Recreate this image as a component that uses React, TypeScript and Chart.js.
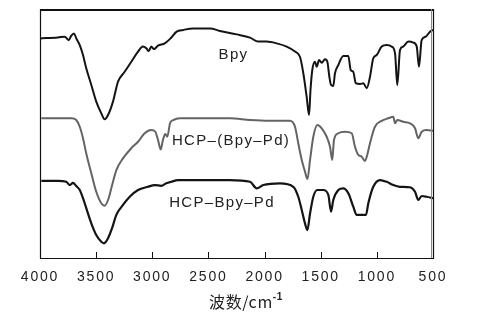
import React, { useEffect, useRef } from "react";
import { Chart, registerables } from "chart.js";

Chart.register(...registerables);

// Wavenumbers (cm^-1) and transmittance (arbitrary, offset) for each trace
const bpyWn = [4000, 3840, 3780, 3744, 3721, 3697, 3677, 3646, 3617, 3588, 3543, 3499, 3454, 3424, 3394, 3350, 3305, 3246, 3187, 3127, 3083, 3053, 3032, 3009, 2985, 2949, 2889, 2842, 2783, 2724, 2635, 2486, 2397, 2248, 2130, 2056, 1981, 1892, 1803, 1729, 1684, 1655, 1625, 1604, 1591, 1575, 1551, 1536, 1515, 1491, 1462, 1441, 1423, 1408, 1388, 1373, 1343, 1299, 1254, 1233, 1210, 1188, 1150, 1121, 1090, 1061, 1032, 1001, 957, 912, 868, 838, 818, 794, 765, 720, 675, 645, 625, 601, 565, 527, 500];
const bpyT = [88.2, 88.6, 88.9, 87.5, 89.3, 90.2, 88.2, 85.5, 81.5, 76.2, 69.5, 62.8, 58.1, 55.7, 57.4, 62.8, 70.8, 74.8, 78.8, 82.9, 84.9, 84.2, 83.1, 84.9, 83.9, 85.3, 86.2, 88.0, 90.9, 91.6, 92.2, 92.2, 91.2, 89.8, 88.5, 86.9, 86.9, 86.2, 84.9, 82.9, 80.7, 74.2, 64.7, 57.4, 67.5, 75.5, 78.8, 76.8, 79.5, 78.4, 79.8, 78.8, 72.8, 69.5, 69.1, 74.2, 77.5, 81.1, 81.1, 75.5, 74.8, 70.2, 69.9, 70.2, 68.2, 72.8, 80.2, 81.5, 84.9, 85.5, 84.9, 82.2, 69.5, 83.5, 84.9, 86.9, 86.5, 84.9, 76.8, 87.5, 88.9, 90.9, 91.6];

const hcpPdWn = [3988, 3721, 3677, 3646, 3617, 3588, 3543, 3499, 3454, 3424, 3394, 3365, 3320, 3261, 3187, 3127, 3068, 3009, 2973, 2949, 2925, 2905, 2884, 2866, 2842, 2813, 2753, 2308, 2130, 1952, 1774, 1729, 1700, 1669, 1640, 1618, 1595, 1566, 1530, 1491, 1447, 1417, 1397, 1382, 1343, 1284, 1224, 1195, 1165, 1135, 1106, 1090, 1061, 1017, 957, 898, 854, 838, 818, 765, 705, 660, 631, 601, 556, 500];
const hcpPdT = [56.1, 56.1, 55.4, 52.7, 48.1, 42.0, 34.0, 26.6, 22.0, 21.0, 23.3, 28.0, 35.3, 40.0, 44.1, 46.7, 50.1, 51.4, 50.7, 47.4, 43.6, 47.4, 49.8, 48.7, 54.1, 55.4, 56.1, 56.1, 55.4, 55.1, 55.1, 52.7, 46.1, 39.4, 34.7, 31.7, 39.4, 48.7, 53.4, 52.1, 48.7, 44.7, 39.4, 47.4, 50.1, 50.7, 50.1, 44.7, 41.4, 40.7, 39.0, 40.7, 46.1, 52.7, 55.1, 56.1, 56.7, 54.1, 55.4, 54.7, 54.1, 52.1, 48.1, 50.7, 51.4, 51.1];

const hcpBpyPdWn = [3988, 3840, 3766, 3735, 3706, 3677, 3646, 3617, 3588, 3543, 3499, 3454, 3430, 3394, 3359, 3320, 3261, 3201, 3127, 3038, 2978, 2920, 2875, 2831, 2771, 2308, 2130, 2070, 2011, 1863, 1744, 1700, 1669, 1640, 1619, 1595, 1566, 1530, 1477, 1432, 1408, 1388, 1343, 1299, 1254, 1210, 1180, 1135, 1097, 1076, 1032, 972, 912, 854, 794, 705, 660, 631, 601, 556, 500];
const hcpBpyPdT = [31.0, 31.0, 30.6, 29.3, 30.2, 28.9, 27.3, 24.0, 20.0, 13.9, 9.2, 6.5, 5.9, 7.9, 11.9, 17.3, 21.3, 24.6, 27.3, 28.6, 29.3, 29.0, 30.0, 30.6, 31.3, 31.3, 30.6, 28.0, 29.3, 30.0, 28.6, 24.6, 19.3, 13.9, 11.2, 17.9, 24.6, 27.3, 27.3, 25.3, 18.6, 23.3, 27.3, 28.0, 26.0, 20.6, 17.3, 17.3, 17.3, 22.0, 28.6, 31.3, 30.6, 29.3, 28.6, 28.4, 26.6, 23.3, 24.9, 24.6, 24.0];

const xTicks = [4000, 3500, 3000, 2500, 2000, 1500, 1000, 500];

const seriesLabels = ["Bpy", "HCP–(Bpy–Pd)", "HCP–Bpy–Pd"];
// label anchor (wavenumber, transmittance)
const labelWn = [2277, 2299, 2379];
const labelT = [81.5, 47.2, 22.0];

const xTitle = "波数/cm";
const xTitleSup = "-1";

function pairs(xs: number[], ys: number[]) {
  return xs.map((x, i) => ({ x, y: ys[i] }));
}

const decor = {
  id: "decor",
  beforeDraw(chart: any) {
    (chart.ctx as any).letterSpacing = "1.8px";
  },
  afterDraw(chart: any) {
    const ctx = chart.ctx as CanvasRenderingContext2D;
    const { left, right, top, bottom } = chart.chartArea;
    const xs = chart.scales.x;
    const ys = chart.scales.y;
    ctx.save();
    // frame
    ctx.strokeStyle = "#111";
    ctx.lineWidth = 1.2;
    ctx.beginPath();
    ctx.moveTo(left + 0.5, top);
    ctx.lineTo(left + 0.5, bottom + 0.5);
    ctx.lineTo(right + 0.5, bottom + 0.5);
    ctx.lineTo(right + 0.5, top);
    ctx.stroke();
    ctx.lineWidth = 2.2;
    ctx.beginPath();
    ctx.moveTo(left, top + 1);
    ctx.lineTo(right + 1, top + 1);
    ctx.stroke();
    ctx.strokeStyle = "#888";
    ctx.lineWidth = 1;
    ctx.beginPath();
    ctx.moveTo(right - 1.5, top);
    ctx.lineTo(right - 1.5, bottom);
    ctx.stroke();
    // inward ticks
    ctx.strokeStyle = "#111";
    ctx.lineWidth = 1;
    for (const t of xTicks) {
      const px = Math.round(xs.getPixelForValue(t)) + 0.5;
      ctx.beginPath();
      ctx.moveTo(px, bottom);
      ctx.lineTo(px, bottom - 6);
      ctx.stroke();
    }
    // series labels
    (ctx as any).letterSpacing = "1.3px";
    ctx.fillStyle = "#222";
    ctx.font = "15px 'Liberation Sans', Arial, sans-serif";
    ctx.textAlign = "center";
    ctx.textBaseline = "middle";
    seriesLabels.forEach((s, i) => {
      ctx.fillText(s, xs.getPixelForValue(labelWn[i]), ys.getPixelForValue(labelT[i]));
    });
    // axis title
    (ctx as any).letterSpacing = "0.6px";
    ctx.font = "16px 'Noto Sans CJK SC', 'Liberation Sans', sans-serif";
    ctx.textAlign = "left";
    ctx.textBaseline = "middle";
    const w1 = ctx.measureText(xTitle).width;
    ctx.font = "bold 10px 'Liberation Sans', sans-serif";
    const w2 = ctx.measureText(xTitleSup).width;
    const startX = 246 - (w1 + w2) / 2;
    ctx.font = "16px 'Noto Sans CJK SC', 'Liberation Sans', sans-serif";
    ctx.fillText(xTitle, startX, 302);
    ctx.font = "bold 10px 'Liberation Sans', sans-serif";
    ctx.fillText(xTitleSup, startX + w1, 297);
    ctx.restore();
  },
};

export default function App() {
  const ref = useRef<HTMLCanvasElement | null>(null);
  useEffect(() => {
    if (!ref.current) return;
    const chart = new Chart(ref.current, {
      type: "line",
      data: {
        datasets: [
          { label: seriesLabels[0], data: pairs(bpyWn, bpyT), borderColor: "#141414", borderWidth: 2, pointRadius: 0, cubicInterpolationMode: "monotone" },
          { label: seriesLabels[1], data: pairs(hcpPdWn, hcpPdT), borderColor: "#646464", borderWidth: 2, pointRadius: 0, cubicInterpolationMode: "monotone" },
          { label: seriesLabels[2], data: pairs(hcpBpyPdWn, hcpBpyPdT), borderColor: "#141414", borderWidth: 2.2, pointRadius: 0, cubicInterpolationMode: "monotone" },
        ],
      },
      options: {
        animation: false,
        responsive: false,
        events: [],
        layout: { padding: { left: 40, right: 67, top: 9, bottom: 0 } },
        plugins: { legend: { display: false }, tooltip: { enabled: false } },
        scales: {
          x: {
            type: "linear",
            reverse: true,
            min: 500,
            max: 4000,
            afterBuildTicks: (s: any) => { s.ticks = xTicks.map((v) => ({ value: v })); },
            afterFit: (s: any) => { s.height = 63; },
            grid: { display: false, drawTicks: false },
            border: { display: false },
            ticks: {
              color: "#222",
              padding: 11,
              maxRotation: 0,
              autoSkip: false,
              font: { family: "'Liberation Sans', Arial, sans-serif", size: 14 },
              callback: (v: any) => String(v),
            },
          },
          y: { display: false, min: 0, max: 100 },
        },
      },
      plugins: [decor],
    });
    return () => chart.destroy();
  }, []);
  return (
    <div style={{ position: "fixed", left: 0, top: 0, width: 500, height: 321, background: "#fff" }}>
      <canvas ref={ref} width={500} height={321} style={{ width: 500, height: 321, display: "block" }} />
    </div>
  );
}
